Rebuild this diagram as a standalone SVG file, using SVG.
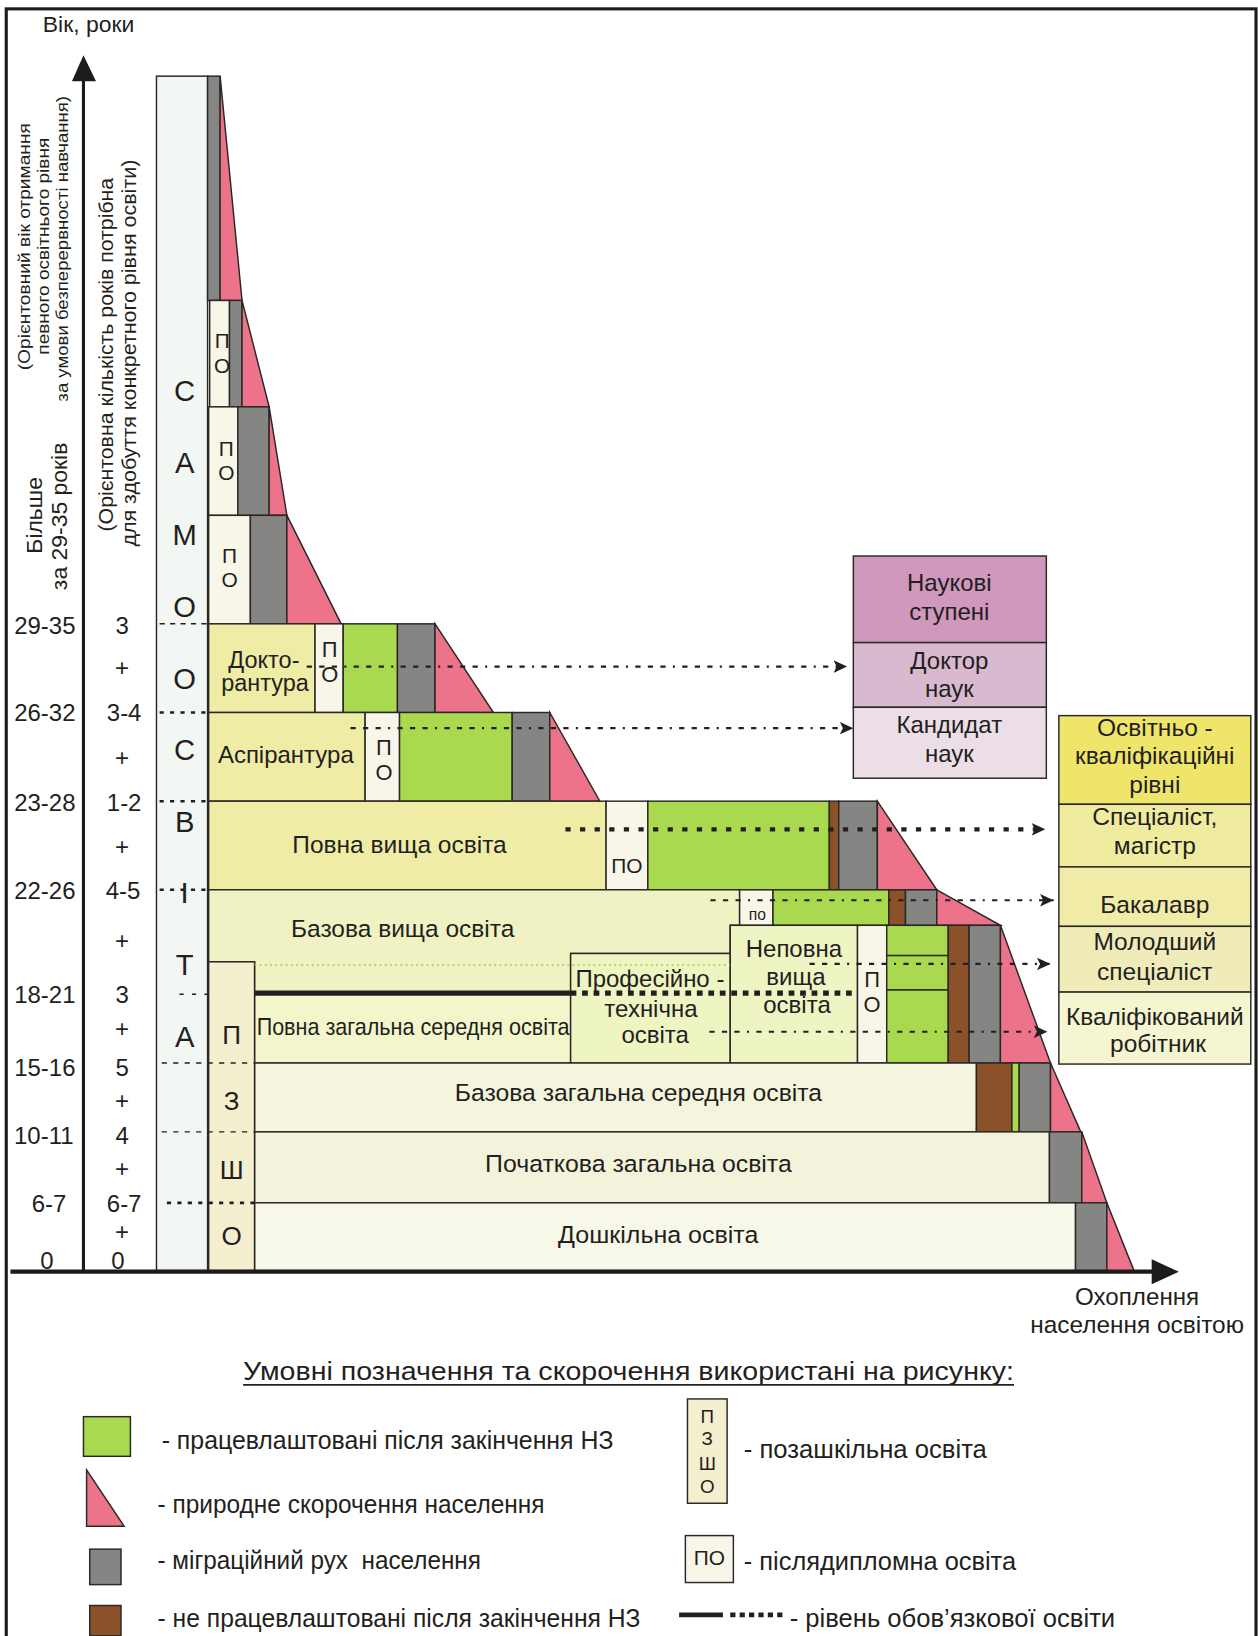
<svg xmlns="http://www.w3.org/2000/svg" width="1258" height="1636" viewBox="0 0 1258 1636">
<defs>
<style>
.t{font-family:"Liberation Sans",Arial,sans-serif;fill:#231f20}
.c{text-anchor:middle}
.b{stroke:#2a2826;stroke-width:1.4}
.y1{fill:#efeca6}
.y2{fill:#f0f2c3}
.y3{fill:#f3f6cb}
.y4{fill:#eff4c3}
.y5{fill:#f5f5dd}
.y6{fill:#f3f2db}
.y7{fill:#f7f7ea}
.po{fill:#f8f6e9}
.gr{fill:#a9d94f}
.gy{fill:#858584}
.br{fill:#8b5128}
.pk{fill:#ec7389}
.pz{fill:#f4efcf}
.mk{stroke:#231f20;fill:none}
.cn{stroke:#231f20;fill:none;stroke-width:2;stroke-dasharray:5 7 5 7 5 7 2 7}
</style>
<marker id="ah" markerUnits="userSpaceOnUse" markerWidth="14" markerHeight="12" refX="13" refY="6" orient="auto"><path d="M0,0 L13,6 L0,12 L3,6 z" fill="#231f20"/></marker>
</defs>
<rect width="1258" height="1636" fill="#fff"/>
<g transform="scale(1.0432)">
<rect x="6" y="8.5" width="1198" height="1600" fill="none" stroke="#1c1c1c" stroke-width="3"/>

<g id="axis-labels" class="t">
<text x="41" y="31" font-size="22">Вік, роки</text>
<text class="c" font-size="16" textLength="237" lengthAdjust="spacingAndGlyphs" transform="translate(29,236.5) rotate(-90)">(Орієнтовний вік отримання</text>
<text class="c" font-size="16" textLength="208" lengthAdjust="spacingAndGlyphs" transform="translate(47,236) rotate(-90)">певного освітнього рівня</text>
<text class="c" font-size="16" textLength="293" lengthAdjust="spacingAndGlyphs" transform="translate(65,238.5) rotate(-90)">за умови безперервності навчання)</text>
<text class="c" font-size="22" transform="translate(40,494) rotate(-90)">Більше</text>
<text class="c" font-size="22" transform="translate(64,495) rotate(-90)">за 29-35 років</text>
<text class="c" font-size="20" textLength="339" lengthAdjust="spacingAndGlyphs" transform="translate(108,340) rotate(-90)">(Орієнтовна кількість років потрібна</text>
<text class="c" font-size="20" textLength="371" lengthAdjust="spacingAndGlyphs" transform="translate(130,338.5) rotate(-90)">для здобуття конкретного рівня освіти)</text>
</g>

<g id="age-scale" class="t c" font-size="23">
<text x="43" y="608">29-35</text><text x="43" y="691">26-32</text><text x="43" y="777">23-28</text><text x="43" y="862">22-26</text><text x="43" y="961">18-21</text><text x="43" y="1031">15-16</text><text x="42" y="1097">10-11</text><text x="47" y="1162">6-7</text><text x="45" y="1216">0</text>
</g>
<g id="years-scale" class="t c" font-size="23">
<text x="117" y="608">3</text><text x="117" y="648">+</text><text x="119" y="691">3-4</text><text x="117" y="734">+</text><text x="119" y="777">1-2</text><text x="117" y="820">+</text><text x="118" y="862">4-5</text><text x="117" y="910">+</text><text x="117" y="961">3</text><text x="117" y="994">+</text><text x="117" y="1031">5</text><text x="117" y="1063">+</text><text x="117" y="1097">4</text><text x="117" y="1128">+</text><text x="119" y="1162">6-7</text><text x="117" y="1189">+</text><text x="113" y="1216">0</text>
</g>

<g id="samoosvita">
<rect x="150" y="73" width="49" height="1145" fill="#f3f7f3" class="b"/>
<g class="t c" font-size="28">
<text x="177" y="384">С</text><text x="177" y="453">А</text><text x="177" y="522">М</text><text x="177" y="591">О</text><text x="177" y="660">О</text><text x="177" y="729">С</text><text x="177" y="798">В</text><text x="177" y="866">І</text><text x="177" y="935">Т</text><text x="177" y="1004">А</text>
</g>
</g>

<g id="top-rows">
<rect x="199" y="73" width="12" height="215" class="b gy"/>
<polygon points="211,73 232,288 211,288" class="b pk"/>
<rect x="201" y="288" width="19" height="102" class="b po"/>
<rect x="220" y="288" width="12" height="102" class="b gy"/>
<polygon points="232,288 258,390 232,390" class="b pk"/>
<rect x="200" y="390" width="28" height="104" class="b po"/>
<rect x="228" y="390" width="30" height="104" class="b gy"/>
<polygon points="258,390 275,494 258,494" class="b pk"/>
<rect x="200" y="494" width="40" height="104" class="b po"/>
<rect x="240" y="494" width="35" height="104" class="b gy"/>
<polygon points="275,494 327,598 275,598" class="b pk"/>
<g class="t c" font-size="20">
<text x="213" y="334">П</text><text x="213" y="358">О</text>
<text x="217" y="437">П</text><text x="217" y="460">О</text>
<text x="220" y="540">П</text><text x="220" y="563">О</text>
</g>
</g>

<g id="doktorantura">
<rect x="200" y="598" width="102" height="85" class="b y1"/>
<text class="t c" font-size="22.5" x="253" y="640">Докто-</text>
<text class="t c" font-size="22.5" x="254" y="662">рантура</text>
<rect x="302" y="598" width="27" height="85" class="b po"/>
<text class="t c" font-size="21" x="316" y="630">П</text><text class="t c" font-size="21" x="316" y="654">О</text>
<rect x="329" y="598" width="52" height="85" class="b gr"/>
<rect x="381" y="598" width="36" height="85" class="b gy"/>
<polygon points="417,598 473,683 417,683" class="b pk"/>
</g>

<g id="aspirantura">
<rect x="200" y="683" width="150" height="85" class="b y1"/>
<text class="t c" font-size="23" x="274" y="731">Аспірантура</text>
<rect x="350" y="683" width="33" height="85" class="b po"/>
<text class="t c" font-size="21" x="368" y="724">П</text><text class="t c" font-size="21" x="368" y="748">О</text>
<rect x="383" y="683" width="108" height="85" class="b gr"/>
<rect x="491" y="683" width="36" height="85" class="b gy"/>
<polygon points="527,683 575,768 527,768" class="b pk"/>
</g>

<g id="povna-vyshcha">
<rect x="200" y="768" width="381" height="85" class="b y1"/>
<text class="t c" font-size="23.5" x="383" y="818">Повна вища освіта</text>
<rect x="581" y="768" width="40" height="85" class="b po"/>
<text class="t c" font-size="20" x="601" y="837">ПО</text>
<rect x="621" y="768" width="174" height="85" class="b gr"/>
<rect x="795" y="768" width="9" height="85" class="b br"/>
<rect x="804" y="768" width="37" height="85" class="b gy"/>
<polygon points="841,768 898,853 841,853" class="b pk"/>
</g>

<g id="bazova-vyshcha">
<polygon points="200,853 709,853 709,887 700,887 700,914 547,914 547,953 244,953 244,922 200,922" class="b y2"/>
<text class="t c" font-size="23.5" x="386" y="898">Базова вища освіта</text>
<rect x="709" y="853" width="32" height="34" class="b po"/>
<text class="t c" font-size="15" x="726" y="882">по</text>
<rect x="741" y="853" width="111" height="34" class="b gr"/>
<rect x="852" y="853" width="16" height="34" class="b br"/>
<rect x="868" y="853" width="30" height="34" class="b gy"/>
<polygon points="898,853 959,887 898,887" class="b pk"/>
</g>

<g id="povna-zagalna">
<rect x="244" y="953" width="303" height="66" class="b y3"/>
<text class="t c" font-size="23" x="396" y="992" textLength="300" lengthAdjust="spacingAndGlyphs">Повна загальна середня освіта</text>
</g>

<g id="pto">
<rect x="547" y="914" width="153" height="105" class="b y4"/>
<g class="t c" font-size="23">
<text x="623" y="946">Професійно -</text><text x="624" y="975">технічна</text><text x="628" y="1000">освіта</text>
</g>
</g>

<g id="nepovna-vyshcha">
<rect x="700" y="887" width="122" height="132" class="b y4"/>
<g class="t c" font-size="23">
<text x="761" y="917">Неповна</text><text x="763" y="944">вища</text><text x="764" y="971">освіта</text>
</g>
<rect x="822" y="887" width="28" height="132" class="b po"/>
<text class="t c" font-size="21" x="836" y="946">П</text><text class="t c" font-size="21" x="836" y="970">О</text>
<rect x="850" y="887" width="59" height="29" class="b gr"/>
<rect x="850" y="916" width="59" height="33" class="b gr"/>
<rect x="850" y="949" width="59" height="70" class="b gr"/>
<rect x="909" y="887" width="20" height="132" class="b br"/>
<rect x="929" y="887" width="30" height="132" class="b gy"/>
<polygon points="959,887 1007,1019 959,1019" class="b pk"/>
</g>

<g id="bazova-zagalna">
<rect x="244" y="1019" width="692" height="66" class="b y5"/>
<text class="t c" font-size="23.5" x="612" y="1055" textLength="352" lengthAdjust="spacingAndGlyphs">Базова загальна середня освіта</text>
<rect x="936" y="1019" width="34" height="66" class="b br"/>
<rect x="970" y="1019" width="7" height="66" class="b gr"/>
<rect x="977" y="1019" width="30" height="66" class="b gy"/>
<polygon points="1007,1019 1036,1085 1007,1085" class="b pk"/>
</g>

<g id="pochatkova">
<rect x="244" y="1085" width="762" height="68" class="b y6"/>
<text class="t c" font-size="23.5" x="612" y="1123" textLength="294" lengthAdjust="spacingAndGlyphs">Початкова загальна освіта</text>
<rect x="1006" y="1085" width="31" height="68" class="b gy"/>
<polygon points="1037,1085 1061,1153 1037,1153" class="b pk"/>
</g>

<g id="doshkilna">
<rect x="244" y="1153" width="787" height="65" class="b y7"/>
<text class="t c" font-size="23.5" x="631" y="1192" textLength="192" lengthAdjust="spacingAndGlyphs">Дошкільна освіта</text>
<rect x="1031" y="1153" width="30" height="65" class="b gy"/>
<polygon points="1061,1153 1087,1218 1061,1218" class="b pk"/>
</g>

<g id="pzsho">
<rect x="200" y="922" width="44" height="296" class="b pz"/>
<g class="t c" font-size="25">
<text x="222" y="1001">П</text><text x="222" y="1064">З</text><text x="222" y="1130">Ш</text><text x="222" y="1193">О</text>
</g>
</g>

<g id="level-marks">
<path d="M153,598 H200" class="mk" stroke-width="1.4" stroke-dasharray="5 5"/>
<path d="M153,683 H200" class="mk" stroke-width="2.4" stroke-dasharray="4 6"/>
<path d="M153,768 H200" class="mk" stroke-width="2.4" stroke-dasharray="4 6"/>
<path d="M153,853 H200" class="mk" stroke-width="2.4" stroke-dasharray="4 6"/>
<path d="M172,953 H200" class="mk" stroke-width="1.4" stroke-dasharray="4 8"/>
<path d="M155,1019 H244" class="mk" stroke-width="1.3" stroke-dasharray="5 6"/>
<path d="M155,1085 H244" class="mk" stroke-width="1.3" stroke-dasharray="5 6"/>
<path d="M160,1153 H244" class="mk" stroke-width="2.6" stroke-dasharray="4 6"/>
<path d="M244,925 H700" fill="none" stroke="#8cc63f" stroke-width="1.3" stroke-dasharray="1.5 3.5"/>
<path d="M244,952 H547" class="mk" stroke-width="4.8"/>
<path d="M547,952 H822" class="mk" stroke-width="4.8" stroke-dasharray="5.5 5.5"/>
</g>

<g id="axes">
<line x1="80" y1="75" x2="80" y2="1218" stroke="#1c1c1c" stroke-width="3"/>
<polygon points="80,53 69,78 92,78" fill="#1c1c1c"/>
<line x1="10" y1="1219" x2="1108" y2="1219" stroke="#1c1c1c" stroke-width="4"/>
<polygon points="1130,1219 1104,1207 1104,1231" fill="#1c1c1c"/>
<text class="t c" font-size="23" x="1090" y="1251" textLength="119" lengthAdjust="spacingAndGlyphs">Охоплення</text>
<text class="t c" font-size="23" x="1090" y="1278" textLength="205" lengthAdjust="spacingAndGlyphs">населення освітою</text>
</g>

<g id="naukovi-stupeni">
<rect x="818" y="533" width="185" height="83" fill="#cf98bc" class="b"/>
<rect x="818" y="616" width="185" height="62" fill="#d8b9cf" class="b"/>
<rect x="818" y="678" width="185" height="68" fill="#ecdee6" class="b"/>
<g class="t c" font-size="23">
<text x="910" y="567">Наукові</text><text x="910" y="594">ступені</text>
<text x="910" y="641">Доктор</text><text x="910" y="668">наук</text>
<text x="910" y="703">Кандидат</text><text x="910" y="730">наук</text>
</g>
</g>

<g id="kvalifikatsiini-rivni">
<rect x="1015" y="686" width="184" height="85" fill="#f0e56b" class="b"/>
<rect x="1015" y="771" width="184" height="60" fill="#f0ec9f" class="b"/>
<rect x="1015" y="831" width="184" height="57" fill="#f0eca7" class="b"/>
<rect x="1015" y="888" width="184" height="63" fill="#efecba" class="b"/>
<rect x="1015" y="951" width="184" height="69" fill="#f6f5d1" class="b"/>
<g class="t c" font-size="23.5">
<text x="1107" y="706">Освітньо -</text><text x="1107" y="732">кваліфікаційні</text><text x="1107" y="760">рівні</text>
<text x="1107" y="791">Спеціаліст,</text><text x="1107" y="819">магістр</text>
<text x="1107" y="875">Бакалавр</text>
<text x="1107" y="911">Молодший</text><text x="1107" y="939">спеціаліст</text>
<text x="1107" y="983">Кваліфікований</text><text x="1110" y="1008">робітник</text>
</g>
</g>

<g id="connectors">
<path d="M294,639 H812" class="cn" marker-end="url(#ah)"/>
<path d="M336,698 H818" class="cn" marker-end="url(#ah)"/>
<path d="M542,795 H1002" fill="none" stroke="#231f20" stroke-width="4" stroke-dasharray="5 9" marker-end="url(#ah)"/>
<path d="M681,863 H1010" class="cn" marker-end="url(#ah)"/>
<path d="M776,924 H1007" class="cn" marker-end="url(#ah)"/>
<path d="M680,989 H1004" class="cn" marker-end="url(#ah)"/>
</g>

<g id="legend">
<text class="t" font-size="25" x="233" y="1323" textLength="739" lengthAdjust="spacingAndGlyphs">Умовні позначення та скорочення використані на рисунку:</text>
<line x1="233" y1="1327.5" x2="972" y2="1327.5" stroke="#231f20" stroke-width="1.5"/>
<rect x="80" y="1358" width="45" height="38" class="b gr"/>
<polygon points="83,1409 119,1463 83,1463" class="b pk"/>
<rect x="86" y="1485" width="30" height="34" class="b gy"/>
<rect x="86" y="1539" width="30" height="29" class="b br"/>
<g class="t" font-size="24">
<text x="155" y="1389" textLength="433" lengthAdjust="spacingAndGlyphs">- працевлаштовані після закінчення НЗ</text>
<text x="151" y="1450" textLength="371" lengthAdjust="spacingAndGlyphs">- природне скорочення населення</text>
<text x="151" y="1504" textLength="310" lengthAdjust="spacingAndGlyphs" xml:space="preserve">- міграційний рух  населення</text>
<text x="151" y="1560" textLength="463" lengthAdjust="spacingAndGlyphs">- не працевлаштовані після закінчення НЗ</text>
<text x="713" y="1398" textLength="233" lengthAdjust="spacingAndGlyphs">- позашкільна освіта</text>
<text x="713" y="1505" textLength="261" lengthAdjust="spacingAndGlyphs">- післядипломна освіта</text>
<text x="757" y="1560" textLength="312" lengthAdjust="spacingAndGlyphs">- рівень обов’язкової освіти</text>
</g>
<rect x="659" y="1341" width="38" height="100" class="b pz"/>
<g class="t c" font-size="18">
<text x="678" y="1364">П</text><text x="678" y="1385">З</text><text x="678" y="1409">Ш</text><text x="678" y="1431">О</text>
</g>
<rect x="657" y="1472" width="46" height="45" class="b po"/>
<text class="t c" font-size="20" x="680" y="1500">ПО</text>
<line x1="651" y1="1548" x2="693" y2="1548" stroke="#231f20" stroke-width="4.5"/>
<line x1="700" y1="1548" x2="753" y2="1548" stroke="#231f20" stroke-width="4.5" stroke-dasharray="5 4"/>
</g>
</g>
</svg>
